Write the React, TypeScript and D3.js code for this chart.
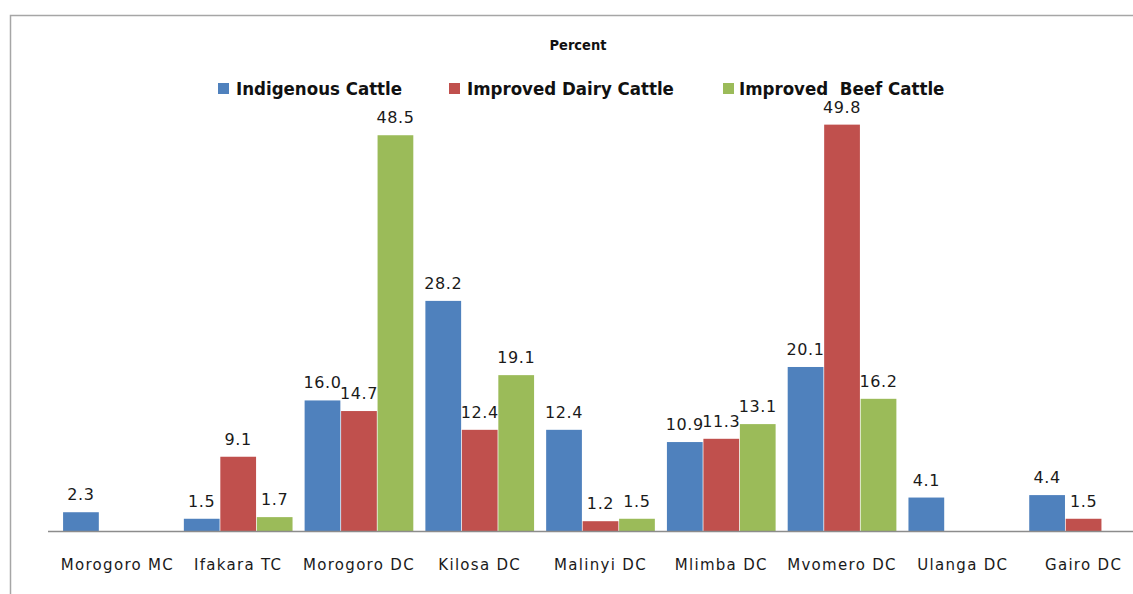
import * as d3 from "d3";

const categories = [
  "Morogoro MC",
  "Ifakara TC",
  "Morogoro DC",
  "Kilosa DC",
  "Malinyi DC",
  "Mlimba DC",
  "Mvomero DC",
  "Ulanga DC",
  "Gairo DC",
];
const seriesNames = ["Indigenous Cattle", "Improved Dairy Cattle", "Improved  Beef Cattle"];
const colors = ["#4F81BD", "#C0504D", "#9BBB59"];

// null = no bar for that district
const indigenous = [2.3, 1.5, 16.0, 28.2, 12.4, 10.9, 20.1, 4.1, 4.4];
const dairy = [null, 9.1, 14.7, 12.4, 1.2, 11.3, 49.8, null, 1.5];
const beef = [null, 1.7, 48.5, 19.1, 1.5, 13.1, 16.2, null, null];
const series = [indigenous, dairy, beef];

const W = 1133;
const H = 594;

export default function App() {
  const x0 = d3.scaleBand().domain(categories).range([51, 1150]).padding(0.1);
  const x1 = d3
    .scaleBand()
    .domain(seriesNames)
    .range([0, x0.bandwidth()])
    .paddingInner(0.02);
  const y = d3.scaleLinear().domain([0, 50]).range([531, 123]);

  // legend square x positions
  const legendX = [218, 449, 723];

  return (
    <svg
      width={W}
      height={H}
      style={{ position: "absolute", left: 0, top: 0, background: "#fff" }}
    >
      {/* chart frame, runs off the right and bottom */}
      <rect x={10.5} y={15.5} width={W} height={H} fill="none" stroke="#a6a6a6" strokeWidth={1.5} />

      <text
        x={578}
        y={50}
        textAnchor="middle"
        fontFamily="DejaVu Sans Condensed, DejaVu Sans"
        fontSize={14.5}
        fontWeight={600}
        fill="#111"
      >
        Percent
      </text>

      {/* legend */}
      {seriesNames.map((name, i) => (
        <g key={name} transform={`translate(${legendX[i]},83)`}>
          <rect width={11} height={11} fill={colors[i]} />
          <text
            x={i === 2 ? 16 : 18}
            y={12}
            fontFamily="DejaVu Sans Condensed, DejaVu Sans"
            fontSize={18.5}
            fontWeight={600}
            fill="#111"
            style={{ whiteSpace: "pre" }}
          >
            {name}
          </text>
        </g>
      ))}

      {/* bars */}
      {categories.map((c, ci) => (
        <g key={c} transform={`translate(${x0(c)},0)`}>
          {series.map((vals, si) => {
            const v = vals[ci];
            if (v == null) return null;
            return (
              <rect
                key={si}
                x={x1(seriesNames[si])}
                y={y(v)}
                width={x1.bandwidth()}
                height={y(0) - y(v)}
                fill={colors[si]}
              />
            );
          })}
        </g>
      ))}

      {/* baseline */}
      <line x1={48} x2={W} y1={531.5} y2={531.5} stroke="#8c8c8c" strokeWidth={1.5} />

      {/* value labels */}
      {categories.map((c, ci) => (
        <g key={c} transform={`translate(${x0(c)},0)`}>
          {series.map((vals, si) => {
            const v = vals[ci];
            if (v == null) return null;
            return (
              <text
                key={si}
                x={(x1(seriesNames[si]) ?? 0) + x1.bandwidth() / 2}
                y={y(v) - 12}
                textAnchor="middle"
                fontFamily="DejaVu Sans"
                fontSize={16}
                letterSpacing={0.6}
                fill="#1a1a1a"
              >
                {v.toFixed(1)}
              </text>
            );
          })}
        </g>
      ))}

      {/* category labels */}
      {categories.map((c) => (
        <text
          key={c}
          x={(x0(c) ?? 0) + x0.bandwidth() / 2}
          y={570}
          textAnchor="middle"
          fontFamily="DejaVu Sans"
          fontSize={15}
          letterSpacing={1.3}
          fill="#1a1a1a"
        >
          {c}
        </text>
      ))}
    </svg>
  );
}
